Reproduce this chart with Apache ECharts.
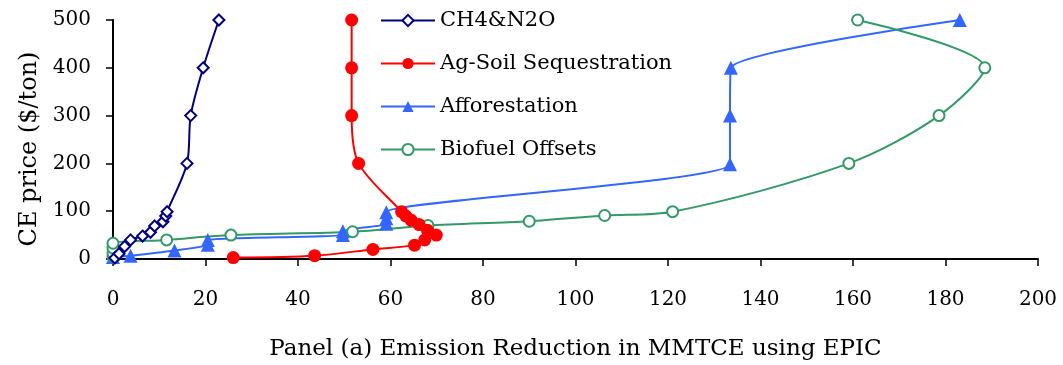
<!DOCTYPE html>
<html>
<head>
<meta charset="utf-8">
<script src="https://cdn.jsdelivr.net/npm/echarts@6/dist/echarts.min.js"></script>
<style>
html,body{margin:0;padding:0;background:#fff;overflow:hidden;}
#chart{width:1063px;height:365px;}
</style>
</head>
<body>
<div id="chart"></div>
<script>
const seriesNames = ['CH4&N2O', 'Ag-Soil Sequestration', 'Afforestation', 'Biofuel Offsets'];
const xTicks = [0, 20, 40, 60, 80, 100, 120, 140, 160, 180, 200];
const yTicks = [0, 100, 200, 300, 400, 500];

const ch4X = [0.4, 1.3, 2.5, 3.8, 6.4, 8.1, 9.0, 10.8, 11.4, 11.7, 16.0, 16.8, 19.5, 22.9];
const ch4Y = [2, 11, 26, 40, 48, 56, 69, 78, 90, 99, 200, 300, 400, 500];

const agX = [26.0, 43.6, 56.2, 65.2, 67.4, 69.9, 68.0, 66.2, 64.5, 63.3, 62.4, 53.1, 51.6, 51.6, 51.6];
const agY = [3, 7, 20, 29, 40, 50, 60, 72, 81, 90, 99, 200, 300, 400, 500];

const afX = [0, 3.8, 13.3, 20.5, 20.5, 49.7, 49.7, 59.1, 59.1, 59.1, 133.4, 133.4, 133.6, 183.1];
const afY = [4, 7, 18, 30, 40, 50, 58, 74, 85, 98, 198, 300, 400, 500];

const bfX = [0, 0, 0, 0, 11.6, 25.5, 51.8, 68.1, 90.0, 106.3, 121.0, 159.1, 178.6, 188.5, 161.0];
const bfY = [5, 12, 23, 33, 40, 50, 57, 70, 79, 91, 99, 200, 300, 400, 500];

function pairs(xs, ys) { return xs.map((x, i) => [x, ys[i]]); }

const font = '"DejaVu Serif", "Liberation Serif", serif';
const chart = echarts.init(document.getElementById('chart'));
chart.setOption({
  animation: false,
  backgroundColor: '#fff',
  grid: { left: 113, right: 25, top: 20, bottom: 106, containLabel: false, outerBoundsMode: 'none' },
  legend: {
    orient: 'vertical',
    left: 375,
    top: 5,
    itemWidth: 54,
    itemHeight: 14,
    itemGap: 22,
    data: seriesNames,
    textStyle: { fontFamily: font, fontSize: 21, color: '#000' }
  },
  xAxis: {
    type: 'value',
    min: xTicks[0], max: xTicks[xTicks.length - 1], interval: 20,
    name: 'Panel (a) Emission Reduction in MMTCE using EPIC',
    nameLocation: 'middle', nameGap: 79,
    nameTextStyle: { fontFamily: font, fontSize: 23, color: '#000' },
    axisLine: { lineStyle: { color: '#000', width: 2 } },
    axisTick: { show: true, length: 7, lineStyle: { color: '#000', width: 1.5 } },
    axisLabel: { fontFamily: font, fontSize: 20, color: '#000', margin: 31 },
    splitLine: { show: false }
  },
  yAxis: {
    type: 'value',
    min: yTicks[0], max: yTicks[yTicks.length - 1], interval: 100,
    name: 'CE price ($/ton)',
    nameLocation: 'middle', nameGap: 58,
    nameTextStyle: { fontFamily: font, fontSize: 24, color: '#000', padding: [0, 19, 0, 0] },
    axisLine: { show: true, lineStyle: { color: '#000', width: 2 } },
    axisTick: { show: true, length: 7, lineStyle: { color: '#000', width: 1.5 } },
    axisLabel: { fontFamily: font, fontSize: 20, color: '#000', margin: 22 },
    splitLine: { show: false }
  },
  series: [
    {
      name: seriesNames[0], type: 'line', smooth: 0.3,
      data: pairs(ch4X, ch4Y),
      symbol: 'diamond', symbolSize: 11,
      color: '#000080',
      lineStyle: { color: '#000080', width: 2 },
      itemStyle: { color: '#fff', borderColor: '#000080', borderWidth: 2 },
      z: 4
    },
    {
      name: seriesNames[1], type: 'line', smooth: 0.3,
      data: pairs(agX, agY),
      symbol: 'circle', symbolSize: 13,
      color: '#FF0000',
      lineStyle: { color: '#FF0000', width: 2 },
      itemStyle: { color: '#FF0000' },
      z: 3
    },
    {
      name: seriesNames[2], type: 'line', smooth: 0.2,
      data: pairs(afX, afY),
      symbol: 'triangle', symbolSize: 14,
      color: '#3366FF',
      lineStyle: { color: '#3366FF', width: 2 },
      itemStyle: { color: '#3366FF' },
      z: 2
    },
    {
      name: seriesNames[3], type: 'line', smooth: 0.3,
      data: pairs(bfX, bfY),
      symbol: 'circle', symbolSize: 11,
      color: '#339966',
      lineStyle: { color: '#339966', width: 2 },
      itemStyle: { color: '#fff', borderColor: '#339966', borderWidth: 2 },
      z: 2
    }
  ]
});
</script>
</body>
</html>
